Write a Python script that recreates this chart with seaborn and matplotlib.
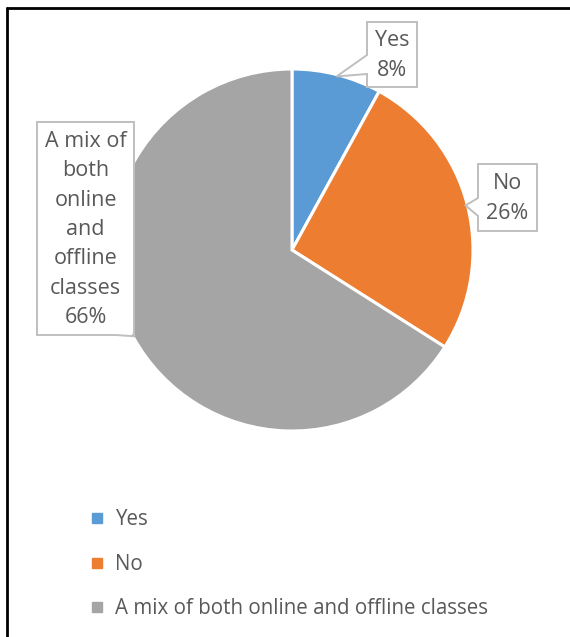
import numpy as np
import matplotlib
matplotlib.use("Agg")
import matplotlib.pyplot as plt
from matplotlib.lines import Line2D
from matplotlib.patches import Polygon
import seaborn as sns

# Survey answers and their shares (percent)
categories = ["Yes", "No", "A mix of both online and offline classes"]
shares = [8, 26, 66]
label_texts = ["Yes\n8%", "No\n26%", "A mix of\nboth\nonline\nand\noffline\nclasses\n66%"]
colors = ["#5B9BD5", "#ED7D31", "#A5A5A5"]

sns.set_theme(style="white")
plt.rcParams["font.family"] = ["Open Sans", "DejaVu Sans"]
TEXT = "#595959"

W, H, DPI = 570, 637, 100
fig = plt.figure(figsize=(W / DPI, H / DPI), dpi=DPI)
ax = fig.add_axes([0, 0, 1, 1])

# pie geometry in pixels: centre and radius
CX, CY, R = 292, 250, 181


def P(x, y):
    """pixel position (origin top-left) -> data units of the pie axes"""
    return ((x - CX) / R, (CY - y) / R)


wedges, _ = ax.pie(shares, colors=colors, startangle=90, counterclock=False,
                   radius=1, center=(0, 0),
                   wedgeprops=dict(edgecolor="white", linewidth=2.2))
x0, y0 = P(0, H)
x1, y1 = P(W, 0)
ax.set_xlim(x0, x1)
ax.set_ylim(y0, y1)
ax.set_aspect("auto")
ax.axis("off")

# callout boxes: (left, top, right, bottom) in pixels, pointer edge, pointer base span
callouts = [
    ((367, 22, 417, 87), "left", (55, 74)),
    ((478, 164, 537, 231), "left", (198, 216)),
    ((37, 122, 134, 335), "bottom", (116, 132)),
]

fractions = np.array(shares) / sum(shares)
cum = np.cumsum(fractions) - fractions / 2
for (box, edge, base), txt, mid in zip(callouts, label_texts, cum):
    ang = np.deg2rad(90 - 360 * mid)
    tip = (0.99 * np.cos(ang), 0.99 * np.sin(ang))
    l, t, r, b = box
    if edge == "left":
        pts = [P(l, t), P(r, t), P(r, b), P(l, b), P(l, base[1]), tip, P(l, base[0])]
    else:
        pts = [P(l, t), P(r, t), P(r, b), P(base[1], b), tip, P(base[0], b), P(l, b)]
    ax.add_patch(Polygon(pts, closed=True, facecolor="white", edgecolor="#BFBFBF",
                         linewidth=1.4, zorder=3))
    cx, cy = P((l + r) / 2, (t + b) / 2 + 1)
    ax.text(cx, cy, txt, ha="center", va="center", fontsize=15.5, color=TEXT,
            linespacing=1.52, zorder=4)

# legend below the pie
handles = [Line2D([], [], marker="s", linestyle="none", markersize=7,
                  markerfacecolor=c, markeredgecolor=c) for c in colors]
ax.legend(handles, categories, loc="upper left", frameon=False,
          bbox_to_anchor=(83 / W, 1 - 501 / H), bbox_transform=fig.transFigure,
          fontsize=14.8, labelcolor=TEXT, handlelength=0.6, handletextpad=0.55,
          labelspacing=1.15, borderaxespad=0)

# chart frame (top and left edges visible)
fig.add_artist(Line2D([6.5 / W, 6.5 / W], [0, 1 - 7.5 / H], transform=fig.transFigure,
                      color="black", linewidth=2))
fig.add_artist(Line2D([6.5 / W, 1], [1 - 7.5 / H, 1 - 7.5 / H], transform=fig.transFigure,
                      color="black", linewidth=2))

fig.savefig("out.png", dpi=DPI, facecolor="white")
